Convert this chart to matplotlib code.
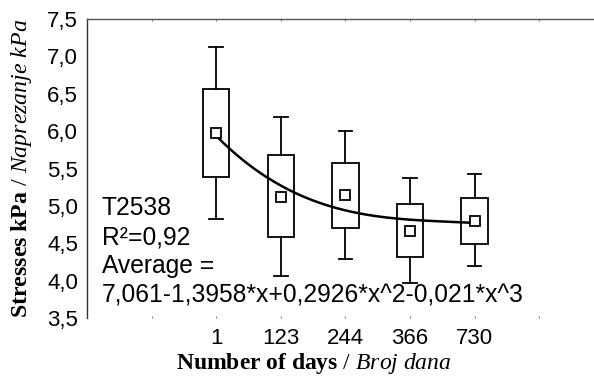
import matplotlib
matplotlib.use("Agg")
import matplotlib.pyplot as plt
import numpy as np

plt.rcParams['mathtext.fontset'] = 'custom'
plt.rcParams['mathtext.rm'] = 'Liberation Serif'
plt.rcParams['mathtext.bf'] = 'Liberation Serif:bold'
plt.rcParams['mathtext.it'] = 'Liberation Serif:italic'

# Data
tick_labels = ['', '1', '123', '244', '366', '730', '']
categories = ['1', '123', '244', '366', '730']
means = [5.98, 5.12, 5.15, 4.67, 4.80]
box_high = [6.56, 5.68, 5.58, 5.02, 5.11]
box_low = [5.39, 4.58, 4.71, 4.31, 4.49]
whisk_high = [7.12, 6.19, 6.00, 5.37, 5.42]
whisk_low = [4.82, 4.06, 4.29, 3.97, 4.19]
coef = [7.061, -1.3958, 0.2926, -0.021]  # Average = c0 + c1*x + c2*x^2 + c3*x^3

fig = plt.figure(figsize=(5.94, 3.76), dpi=100)
ax = fig.add_axes([87/594, 1-318/376, 1-87/594, 299/376])

pos = np.arange(1, len(categories)+1)
bw = 0.41
cw = 0.21
lw = 1.3
for p, m, bh, bl, wh, wl in zip(pos, means, box_high, box_low, whisk_high, whisk_low):
    ax.add_patch(plt.Rectangle((p-bw/2, bl), bw, bh-bl, fill=False, ec='black', lw=lw, zorder=2))
    ax.plot([p, p], [bh, wh], color='black', lw=lw, zorder=2)
    ax.plot([p, p], [bl, wl], color='black', lw=lw, zorder=2)
    ax.plot([p-cw/2, p+cw/2], [wh, wh], color='black', lw=lw, zorder=2)
    ax.plot([p-cw/2, p+cw/2], [wl, wl], color='black', lw=lw, zorder=2)

ax.plot(pos, means, linestyle='none', marker='s', ms=6.5, mfc='white', mec='black', mew=1.3, zorder=4)

xx = np.linspace(1, len(categories), 200)
yy = coef[0] + coef[1]*xx + coef[2]*xx**2 + coef[3]*xx**3
ax.plot(xx, yy, color='black', lw=1.8, zorder=3)

ax.set_xlim(-1, 6.85)
ax.set_ylim(3.5, 7.5)
ax.set_xticks(range(len(tick_labels)))
ax.set_xticklabels(tick_labels, fontsize=16, family='Liberation Sans')
ax.set_yticks(np.arange(3.5, 7.51, 0.5))
ax.set_yticklabels([f"{v:.1f}".replace('.', ',') for v in np.arange(3.5, 7.51, 0.5)],
                   fontsize=16, family='Liberation Sans')
ax.tick_params(axis='x', bottom=True, top=True, length=1.5, width=0.8, color='#777777',
               direction='in', pad=7)
ax.tick_params(axis='y', left=False, right=False, pad=3)
for s in ['right', 'bottom']:
    ax.spines[s].set_visible(False)
ax.spines['left'].set_color('#333333')
ax.spines['top'].set_color('#555555')
ax.spines['left'].set_linewidth(1.0)
ax.spines['top'].set_linewidth(1.0)

txt = dict(fontsize=17.7, family='Liberation Sans', va='baseline', ha='left')
fig.text(102/594, 1-215/376, 'T2538', **txt)
fig.text(102/594, 1-245/376, 'R²=0,92', **txt)
fig.text(102/594, 1-273/376, 'Average =', **txt)
fig.text(102/594, 1-303/376, '7,061-1,3958*x+0,2926*x^2-0,021*x^3', **txt)

fig.text(314/594, 1-369/376, r'$\mathbf{Number\ of\ days}$ / $\mathit{Broj\ dana}$',
         fontsize=17, family='Liberation Serif', ha='center', va='baseline')
fig.text(22/594, 1-168/376, r'$\mathbf{Stresses\ kPa}$ / $\mathit{Naprezanje\ kPa}$',
         fontsize=17.2, family='Liberation Serif', ha='center', va='center', rotation=90)

fig.savefig('out.png', dpi=100)
